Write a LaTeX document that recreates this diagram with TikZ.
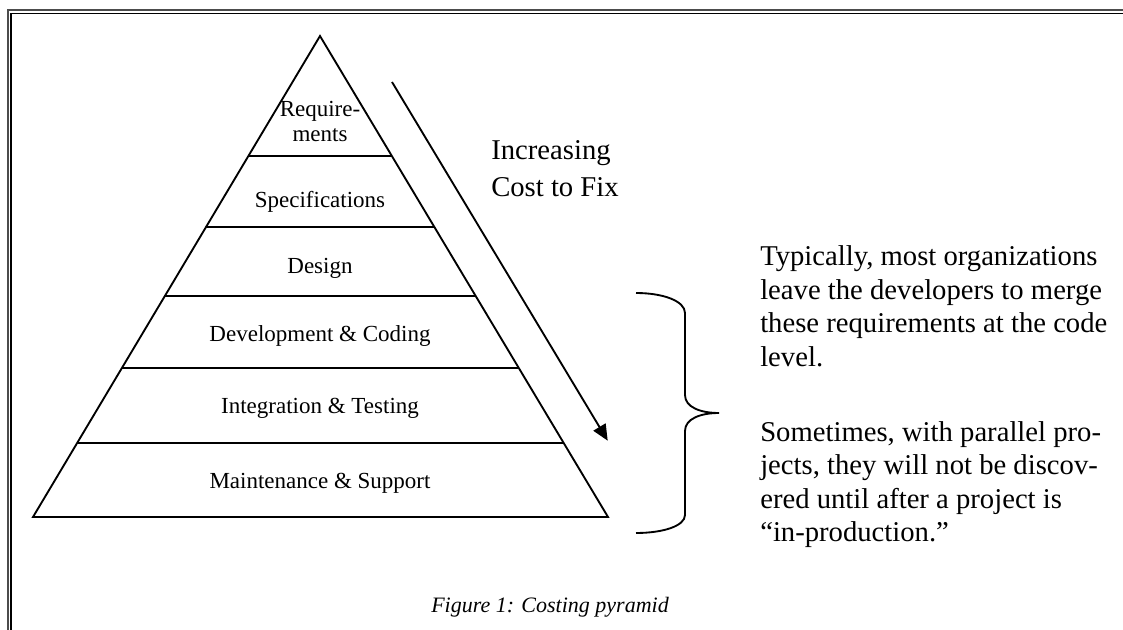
\documentclass[tikz,border=0pt]{standalone}
\usepackage{fontspec}
\setmainfont{Liberation Serif}
\usetikzlibrary{arrows.meta,calc}

\begin{document}
\begin{tikzpicture}[x=0.75pt,y=-0.75pt,
  edge/.style={line width=1.4pt, line join=miter},
  layer/.style={font=\fontsize{17.25}{20}\selectfont, anchor=base, inner sep=0pt},
  note/.style={font=\fontsize{21.5}{25}\selectfont, anchor=base west, inner sep=0pt},
  costarrow/.style={line width=1.4pt, -{Triangle[length=12pt,width=10.5pt]}},
  bracepath/.style={line width=1.4pt},
  captionstyle/.style={font=\itshape\fontsize{16.5}{20}\selectfont, anchor=base, inner sep=0pt}]

  \useasboundingbox (0,0) rectangle (1123,630);

  % double frame (left and top edges)
  \draw[black!70, line width=1.7pt, line join=miter] (7.8,640) -- (7.8,10.2) -- (1133,10.2);
  \draw[line width=1pt, line join=miter] (11,640) -- (11,13.3) -- (1133,13.3);

  % pyramid outline
  \coordinate (apex) at (320,36);
  \coordinate (bl) at (33,517);
  \coordinate (br) at (608,517);
  \draw[edge] (bl) -- (apex) -- (br) -- cycle;

  % layer separators
  \foreach \t in {0.2495,0.3971,0.5405,0.6902,0.8462}
    \draw[edge] ($(apex)!\t!(bl)$) -- ($(apex)!\t!(br)$);

  % layer labels
  \node[layer] (req1)  at (320,117) {Require-};
  \node[layer] (req2)  at (320,142) {ments};
  \node[layer] (spec)  at (320,208) {Specifications};
  \node[layer] (des)   at (320,274) {Design};
  \node[layer] (dev)   at (320,342) {Development \& Coding};
  \node[layer] (integ) at (320,413) {Integration \& Testing};
  \node[layer] (maint) at (320,488) {Maintenance \& Support};

  % cost arrow
  \coordinate (arrowtop) at (392,82);
  \coordinate (arrowtip) at (607.7,440.7);
  \draw[costarrow] (arrowtop) -- (arrowtip);

  \node[note] (inc1) at (491,160) {Increasing};
  \node[note] (inc2) at (491,197) {Cost to Fix};

  % curly brace
  \draw[bracepath] (636,293) .. controls (663,293) and (685,301) .. (685,313)
    -- (685,395) .. controls (685,407) and (700,413) .. (719,413)
    .. controls (700,413) and (685,419) .. (685,431)
    -- (685,515) .. controls (685,526) and (663,533) .. (636,533);

  % explanatory text
  \node[note] (p1a) at (760,266)   {Typically, most organizations};
  \node[note] (p1b) at (760,299.5) {leave the developers to merge};
  \node[note] (p1c) at (760,333)   {these requirements at the code};
  \node[note] (p1d) at (760,366.5) {level.};
  \node[note] (p2a) at (760,441)   {Sometimes, with parallel pro-};
  \node[note] (p2b) at (760,474.5) {jects, they will not be discov-};
  \node[note] (p2c) at (760,508)   {ered until after a project is};
  \node[note] (p2d) at (760,541.5) {“in-production.”};

  \node[captionstyle] (caption) at (550,612) {Figure 1: Costing pyramid};
\end{tikzpicture}
\end{document}
